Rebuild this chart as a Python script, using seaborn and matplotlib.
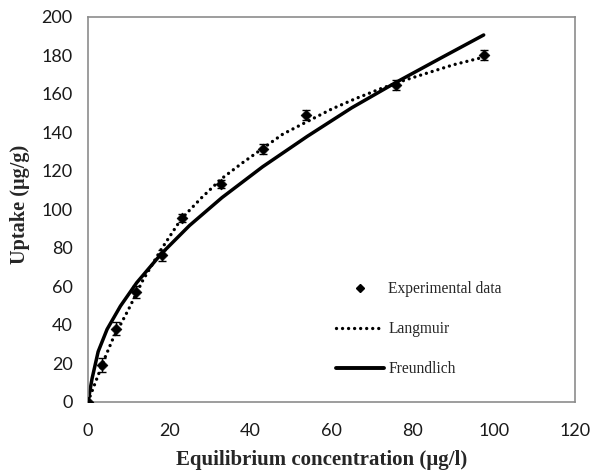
import matplotlib
matplotlib.use("Agg")
import matplotlib.pyplot as plt
import seaborn as sns
import pandas as pd
from matplotlib.lines import Line2D

# Experimental data
exp_x = [0, 3.5, 6.8, 11.9, 18.2, 23.2, 32.7, 43.1, 53.8, 75.8, 97.5]
exp_y = [0, 19.0, 38.0, 57.0, 76.0, 95.3, 113.0, 131.3, 149.0, 164.5, 180.0]
exp_err = [0, 3.5, 3.5, 3.0, 3.0, 2.0, 2.0, 2.5, 2.5, 2.5, 2.5]

# Langmuir curve
lang_x = [0, 2, 4, 6.2, 8, 10, 13.5, 18, 23, 28, 33, 38, 43, 48, 54, 60, 66, 72, 78, 84, 90, 97.5]
lang_y = [0, 11, 22, 33, 40, 48, 63, 79, 95, 106, 116, 124, 131.5, 139, 145.5, 152, 157.5, 162.5, 167, 171, 175, 179]

# Freundlich curve
freu_x = [0, 1, 2.5, 4.7, 8, 12, 18, 25, 33, 43, 54, 65, 76, 87, 97.5]
freu_y = [0, 12, 26, 37.6, 49.7, 61.8, 76.7, 91.5, 106, 122, 137.8, 152.7, 166, 178.6, 190.5]

x_ticks = [0, 20, 40, 60, 80, 100, 120]
y_ticks = [0, 20, 40, 60, 80, 100, 120, 140, 160, 180, 200]

sns.set_style("white")
plt.rcParams["font.family"] = ["Lato", "DejaVu Sans"]

fig = plt.figure(figsize=(5.9, 4.72), dpi=100)
ax = fig.add_axes([88 / 590, 1 - 401.7 / 472, (575 - 88) / 590, (401.7 - 16.7) / 472])

df_exp = pd.DataFrame({"x": exp_x, "y": exp_y})
df_lang = pd.DataFrame({"x": lang_x, "y": lang_y})
df_freu = pd.DataFrame({"x": freu_x, "y": freu_y})

sns.lineplot(data=df_freu, x="x", y="y", ax=ax, color="black", lw=2.5, estimator=None)
sns.lineplot(data=df_lang, x="x", y="y", ax=ax, color="black", lw=2.4, estimator=None)
ax.lines[-1].set_dashes([0.01, 1.8])
ax.lines[-1].set_dash_capstyle("round")

ax.errorbar(exp_x, exp_y, yerr=exp_err, fmt="none", ecolor="black", elinewidth=1.0,
            capsize=3, capthick=1.0)
sns.scatterplot(data=df_exp, x="x", y="y", ax=ax, marker="D", s=30, color="black",
                edgecolor="black", linewidth=0.5, zorder=5)

ax.set_xlim(0, 120)
ax.set_ylim(0, 200)
ax.set_xticks(x_ticks)
ax.set_yticks(y_ticks)
ax.tick_params(axis="both", which="major", labelsize=13, colors="#8c8c8c",
               labelcolor="#1a1a1a", direction="out", length=5, width=1)
ax.tick_params(axis="x", pad=10)
ax.tick_params(axis="y", pad=6)
for s in ax.spines.values():
    s.set_color("#8c8c8c")
    s.set_linewidth(1.2)

ax.set_xlabel("Equilibrium concentration (µg/l)", fontsize=15, fontweight="bold",
              family="Liberation Serif")
ax.set_ylabel("Uptake (µg/g)", fontsize=14.6, fontweight="bold",
              family="Liberation Serif")
ax.xaxis.set_label_coords((322 - 88.3) / 486.7, (401.7 - 460) / 385)
ax.xaxis.label.set_va("center")
ax.yaxis.set_label_coords((20 - 88.3) / 486.7, (401.7 - 204) / 385)
ax.yaxis.label.set_va("center")

handles = [
    Line2D([], [], ls="none", marker="D", color="black", markersize=4.5),
    Line2D([], [], color="black", lw=2.4, dashes=[0.01, 1.8], dash_capstyle="round"),
    Line2D([], [], color="black", lw=2.8),
]
labels = ["Experimental data", "Langmuir", "Freundlich"]
leg = ax.legend(handles, labels, loc="upper left", bbox_to_anchor=(336 / 590, 1 - 281 / 472),
                bbox_transform=fig.transFigure, frameon=False, borderpad=0, borderaxespad=0,
                handlelength=3.1, handletextpad=0.25, labelspacing=1.55,
                prop={"family": "Liberation Serif", "size": 11.2})

fig.savefig("out.png", dpi=100)
